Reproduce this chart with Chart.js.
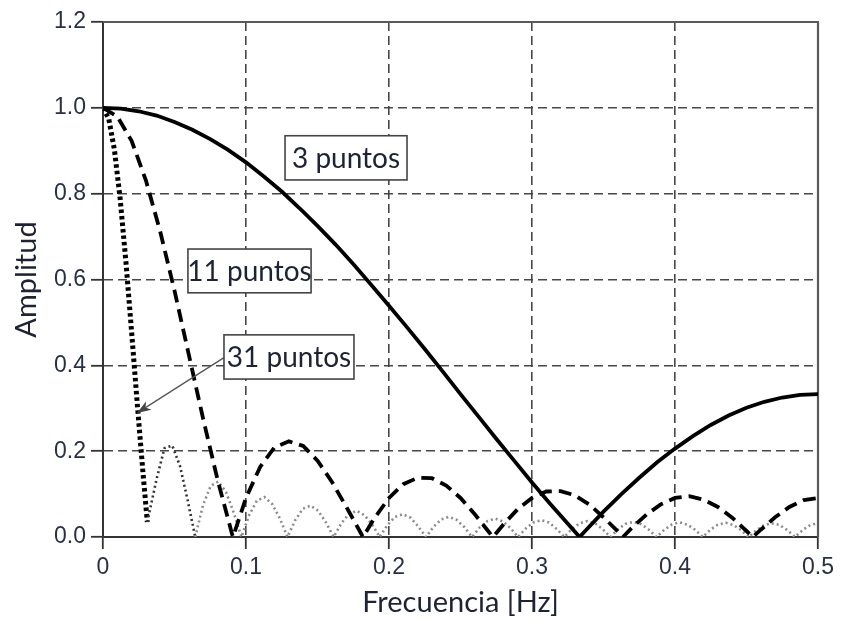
<!DOCTYPE html>
<html>
<head>
<meta charset="utf-8">
<script src="https://cdn.jsdelivr.net/npm/chart.js@4.4.1/dist/chart.umd.min.js"></script>
<style>
  html,body{margin:0;padding:0;background:#fff;}
  #wrap{width:841px;height:620px;}
</style>
</head>
<body>
<div id="wrap"><canvas id="chart" width="841" height="620"></canvas></div>
<script>
// --- DATA --- //
const xTicks = [0, 0.1, 0.2, 0.3, 0.4, 0.5];
const yTicks = [0, 0.2, 0.4, 0.6, 0.8, 1.0, 1.2];

// 3 puntos
const freq3 = [0,0.0125,0.025,0.0375,0.05,0.0625,0.075,0.0875,0.1,0.1125,0.125,0.1375,0.15,0.1625,0.175,0.1875,
  0.2,0.2125,0.225,0.2375,0.25,0.2625,0.275,0.2875,0.3,0.3125,0.3333,0.3375,0.35,0.3625,0.375,0.3875,
  0.4,0.4125,0.425,0.4375,0.45,0.4625,0.475,0.4875,0.5];
const amp3 = [1,0.998,0.992,0.982,0.967,0.949,0.927,0.902,0.873,0.840,0.805,0.766,0.725,0.682,0.636,0.588,
  0.539,0.489,0.438,0.386,0.333,0.281,0.229,0.178,0.127,0.078,0,0.015,0.059,0.100,0.138,0.174,
  0.206,0.235,0.261,0.283,0.301,0.315,0.325,0.331,0.333];

// 11 puntos
const freq11 = [0,0.01,0.02,0.03,0.04,0.05,0.06,0.07,0.08,0.09,0.0909,
  0.10,0.11,0.12,0.13,0.14,0.15,0.16,0.17,0.18,0.1818,
  0.19,0.20,0.21,0.22,0.23,0.24,0.25,0.26,0.27,0.2727,
  0.28,0.29,0.30,0.31,0.32,0.33,0.34,0.35,0.36,0.3636,
  0.37,0.38,0.39,0.40,0.41,0.42,0.43,0.44,0.45,0.4545,
  0.46,0.47,0.48,0.49,0.50];
const amp11 = [1,0.980,0.923,0.831,0.712,0.574,0.425,0.276,0.135,0.010,0,
  0.091,0.164,0.209,0.223,0.212,0.178,0.129,0.071,0.011,0,
  0.045,0.091,0.123,0.138,0.137,0.120,0.091,0.053,0.011,0,
  0.029,0.065,0.091,0.106,0.107,0.097,0.076,0.046,0.013,0,
  0.022,0.052,0.076,0.091,0.095,0.087,0.070,0.045,0.014,0,
  0.017,0.046,0.070,0.086,0.091];

// 31 puntos
const freq31 = [0,0.004,0.008,0.012,0.016,0.020,0.024,0.028,0.031,
  0.0376,0.0430,0.0484,0.0538,0.0591,0.0645,0.0699,0.0753,0.0806,0.0860,0.0914,0.0968,
  0.1022,0.1075,0.1129,0.1183,0.1237,0.1290,0.1344,0.1398,0.1452,0.1505,0.1559,0.1613,
  0.1667,0.1720,0.1774,0.1828,0.1882,0.1935,0.1989,0.2043,0.2097,0.2151,0.2204,0.2258,
  0.2312,0.2366,0.2419,0.2473,0.2527,0.2581,0.2634,0.2688,0.2742,0.2796,0.2849,0.2903,
  0.2957,0.3011,0.3065,0.3118,0.3172,0.3226,0.3280,0.3333,0.3387,0.3441,0.3495,0.3548,
  0.3602,0.3656,0.3710,0.3763,0.3817,0.3871,0.3925,0.3978,0.4032,0.4086,0.4140,0.4194,
  0.4247,0.4301,0.4355,0.4409,0.4462,0.4516,0.4570,0.4624,0.4677,0.4731,0.4785,0.4839,
  0.4892,0.4946,0.5];
const amp31 = [1,0.975,0.902,0.788,0.642,0.478,0.309,0.148,0.035,
  0.137,0.207,0.213,0.166,0.087,0,0.074,0.119,0.129,0.105,0.057,0,
  0.051,0.084,0.093,0.077,0.043,0,0.039,0.066,0.073,0.061,0.034,0,
  0.032,0.054,0.061,0.051,0.029,0,0.028,0.047,0.053,0.045,0.025,0,
  0.024,0.041,0.047,0.040,0.023,0,0.022,0.037,0.043,0.036,0.021,0,
  0.020,0.034,0.039,0.034,0.019,0,0.019,0.032,0.037,0.032,0.018,0,
  0.018,0.031,0.035,0.030,0.017,0,0.017,0.029,0.034,0.029,0.017,0,
  0.017,0.029,0.033,0.028,0.016,0,0.016,0.028,0.032,0.028,0.016,0,
  0.016,0.028,0.032];

// text boxes, in data units
const labels = [
  {text:"3 puntos",  x0:0.1273, x1:0.2126, y0:0.832, y1:0.935},
  {text:"11 puntos", x0:0.0594, x1:0.1455, y0:0.569, y1:0.671},
  {text:"31 puntos", x0:0.0846, x1:0.1755, y0:0.368, y1:0.471}
];
const arrow31 = {x0:0.0846, y0:0.418, x1:0.0238, y1:0.289};

function pts(fx, fy){ return fx.map((f,i)=>({x:f, y:fy[i]})); }

const tickFont = {family:"'Liberation Sans', Arial, sans-serif", size:23};
const tickColor = "#283044";
const gridColor = "#474747";

// frame (top / right) + text boxes + arrow
const extras = {
  id:"extras",
  beforeDatasetsDraw(chart){
    const {ctx, chartArea:a} = chart;
    ctx.save();
    ctx.strokeStyle = "#5a5a5a";
    ctx.lineWidth = 2.2;
    ctx.beginPath();
    ctx.moveTo(a.left, a.top); ctx.lineTo(a.right, a.top); ctx.lineTo(a.right, a.bottom);
    ctx.stroke();
    ctx.restore();
  },
  afterDraw(chart){
    const {ctx} = chart;
    const xs = chart.scales.x, ys = chart.scales.y;
    ctx.save();
    // arrow
    let ax0 = xs.getPixelForValue(arrow31.x0), ay0 = ys.getPixelForValue(arrow31.y0);
    let ax1 = xs.getPixelForValue(arrow31.x1), ay1 = ys.getPixelForValue(arrow31.y1);
    let ang = Math.atan2(ay1-ay0, ax1-ax0);
    ctx.strokeStyle = "#555"; ctx.fillStyle = "#444"; ctx.lineWidth = 1.3;
    ctx.beginPath(); ctx.moveTo(ax0, ay0); ctx.lineTo(ax1-10*Math.cos(ang), ay1-10*Math.sin(ang)); ctx.stroke();
    ctx.beginPath();
    ctx.moveTo(ax1, ay1);
    ctx.lineTo(ax1-14*Math.cos(ang)+5*Math.sin(ang), ay1-14*Math.sin(ang)-5*Math.cos(ang));
    ctx.lineTo(ax1-10*Math.cos(ang), ay1-10*Math.sin(ang));
    ctx.lineTo(ax1-14*Math.cos(ang)-5*Math.sin(ang), ay1-14*Math.sin(ang)+5*Math.cos(ang));
    ctx.closePath(); ctx.fill();
    // boxes
    labels.forEach(l=>{
      let x0 = xs.getPixelForValue(l.x0), x1 = xs.getPixelForValue(l.x1);
      let y0 = ys.getPixelForValue(l.y1), y1 = ys.getPixelForValue(l.y0);
      ctx.fillStyle = "#fff";
      ctx.fillRect(x0, y0, x1-x0, y1-y0);
      ctx.strokeStyle = "#444"; ctx.lineWidth = 1.6;
      ctx.strokeRect(x0, y0, x1-x0, y1-y0);
      ctx.fillStyle = "#1e2233";
      ctx.font = "28px Lato, 'Open Sans', sans-serif";
      ctx.textAlign = "center"; ctx.textBaseline = "middle";
      ctx.fillText(l.text, (x0+x1)/2, (y0+y1)/2 + 1);
    });
    ctx.restore();
  }
};

const edgeGrid = (ctx, lo, hi) => (ctx.tick && (ctx.tick.value === lo || ctx.tick.value === hi)) ? "rgba(0,0,0,0)" : gridColor;

new Chart(document.getElementById("chart"), {
  type:"line",
  data:{
    datasets:[
      {label:"3 puntos", data:pts(freq3, amp3), borderColor:"#000", borderWidth:3.8, pointRadius:0, tension:0},
      {label:"11 puntos", data:pts(freq11, amp11), borderColor:"#000", borderWidth:3.8, borderDash:[13,7], pointRadius:0, tension:0},
      {label:"31 puntos", data:pts(freq31, amp31), borderColor:"#888", borderWidth:2.5, borderDash:[2,3], pointRadius:0, tension:0,
        segment:{
          borderColor: c => c.p0.parsed.x < 0.0305 ? "#000" : (c.p0.parsed.x < 0.064 ? "#333" : "#8c8c8c"),
          borderWidth: c => c.p0.parsed.x < 0.0305 ? 5 : 2.6,
          borderDash: c => c.p0.parsed.x < 0.0305 ? [3.5,3] : [2,3]
        }}
    ]
  },
  options:{
    responsive:false,
    animation:false,
    devicePixelRatio:1,
    layout:{padding:{top:22, right:23, left:0, bottom:0}},
    plugins:{legend:{display:false}, tooltip:{enabled:false}},
    scales:{
      x:{
        type:"linear", min:0, max:0.5,
        afterBuildTicks: s => { s.ticks = xTicks.map(v=>({value:v})); },
        afterFit: s => { s.height = 83; },
        ticks:{font:tickFont, color:tickColor, padding:5, maxRotation:0,
          callback: v => v === 0 ? "0" : v.toFixed(1)},
        grid:{color: c => edgeGrid(c, 0, 0.5), lineWidth:1.6, tickLength:12, tickColor:"#333", tickWidth:1.8},
        border:{display:true, color:"#333", width:2, dash:[9,5]},
        title:{display:true, text:"Frecuencia [Hz]", color:"#1e2233",
          font:{family:"Lato, 'Open Sans', sans-serif", size:29}, padding:{top:0, bottom:0}}
      },
      y:{
        min:0, max:1.2,
        afterBuildTicks: s => { s.ticks = yTicks.map(v=>({value:v})); },
        afterFit: s => { s.width = 103; },
        ticks:{font:tickFont, color:tickColor, padding:5, callback: v => v.toFixed(1)},
        grid:{color: c => edgeGrid(c, 0, 1.2), lineWidth:1.6, tickLength:12, tickColor:"#333", tickWidth:1.8},
        border:{display:true, color:"#333", width:2, dash:[9,5]},
        title:{display:true, text:"Amplitud", color:"#1e2233",
          font:{family:"Lato, 'Open Sans', sans-serif", size:29}, padding:{top:9, bottom:0}}
      }
    }
  },
  plugins:[extras]
});
</script>
</body>
</html>
